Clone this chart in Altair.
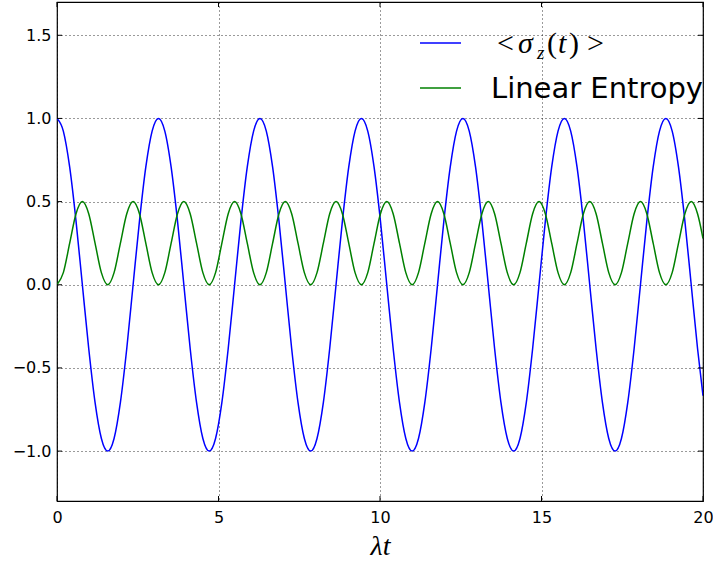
import altair as alt
import pandas as pd

# time samples (lambda t)
t = [0.0, 0.196, 0.393, 0.589, 0.785, 0.982, 1.178, 1.374, 1.571, 1.767, 1.963, 2.160, 2.356, 2.553, 2.749, 2.945,
     3.142, 3.338, 3.534, 3.731, 3.927, 4.123, 4.320, 4.516, 4.712, 4.909, 5.105, 5.301, 5.498, 5.694, 5.890, 6.087,
     6.283, 6.480, 6.676, 6.872, 7.069, 7.265, 7.461, 7.658, 7.854, 8.050, 8.247, 8.443, 8.639, 8.836, 9.032, 9.228,
     9.425, 9.621, 9.817, 10.014, 10.210, 10.407, 10.603, 10.799, 10.996, 11.192, 11.388, 11.585, 11.781, 11.977, 12.174, 12.370,
     12.566, 12.763, 12.959, 13.155, 13.352, 13.548, 13.744, 13.941, 14.137, 14.334, 14.530, 14.726, 14.923, 15.119, 15.315, 15.512,
     15.708, 15.904, 16.101, 16.297, 16.493, 16.690, 16.886, 17.082, 17.279, 17.475, 17.671, 17.868, 18.064, 18.261, 18.457, 18.653,
     18.850, 19.046, 19.242, 19.439, 19.635, 19.831, 20.0]

sigma_z = [1.0, 0.924, 0.707, 0.383, 0.0, -0.383, -0.707, -0.924, -1.0, -0.924, -0.707, -0.383, 0.0, 0.383, 0.707, 0.924,
           1.0, 0.924, 0.707, 0.383, 0.0, -0.383, -0.707, -0.924, -1.0, -0.924, -0.707, -0.383, 0.0, 0.383, 0.707, 0.924,
           1.0, 0.924, 0.707, 0.383, 0.0, -0.383, -0.707, -0.924, -1.0, -0.924, -0.707, -0.383, 0.0, 0.383, 0.707, 0.924,
           1.0, 0.924, 0.707, 0.383, 0.0, -0.383, -0.707, -0.924, -1.0, -0.924, -0.707, -0.383, 0.0, 0.383, 0.707, 0.924,
           1.0, 0.924, 0.707, 0.383, 0.0, -0.383, -0.707, -0.924, -1.0, -0.924, -0.707, -0.383, 0.0, 0.383, 0.707, 0.924,
           1.0, 0.924, 0.707, 0.383, 0.0, -0.383, -0.707, -0.924, -1.0, -0.924, -0.707, -0.383, 0.0, 0.383, 0.707, 0.924,
           1.0, 0.924, 0.707, 0.383, 0.0, -0.383, -0.667]

entropy = [0.0, 0.073, 0.25, 0.427, 0.5, 0.427, 0.25, 0.073, 0.0, 0.073, 0.25, 0.427, 0.5, 0.427, 0.25, 0.073,
           0.0, 0.073, 0.25, 0.427, 0.5, 0.427, 0.25, 0.073, 0.0, 0.073, 0.25, 0.427, 0.5, 0.427, 0.25, 0.073,
           0.0, 0.073, 0.25, 0.427, 0.5, 0.427, 0.25, 0.073, 0.0, 0.073, 0.25, 0.427, 0.5, 0.427, 0.25, 0.073,
           0.0, 0.073, 0.25, 0.427, 0.5, 0.427, 0.25, 0.073, 0.0, 0.073, 0.25, 0.427, 0.5, 0.427, 0.25, 0.073,
           0.0, 0.073, 0.25, 0.427, 0.5, 0.427, 0.25, 0.073, 0.0, 0.073, 0.25, 0.427, 0.5, 0.427, 0.25, 0.073,
           0.0, 0.073, 0.25, 0.427, 0.5, 0.427, 0.25, 0.073, 0.0, 0.073, 0.25, 0.427, 0.5, 0.427, 0.25, 0.073,
           0.0, 0.073, 0.25, 0.427, 0.5, 0.427, 0.278]

series_names = ["sigma", "entropy"]
series_colors = ["#0000ff", "#008000"]
x_ticks = [0, 5, 10, 15, 20]
y_ticks = [-1.0, -0.5, 0.0, 0.5, 1.0, 1.5]
x_domain = [0, 20]
y_domain = [-1.3, 1.7]

W, H = 646, 499

rows = []
for i in range(len(t)):
    rows.append({"x": t[i], "y": sigma_z[i], "s": "sigma", "o": i})
    rows.append({"x": t[i], "y": entropy[i], "s": "entropy", "o": i})
df = pd.DataFrame(rows)

xs = alt.Scale(domain=x_domain, nice=False, zero=False)
ys = alt.Scale(domain=y_domain, nice=False, zero=False)
xa = alt.Axis(values=x_ticks, format="d", title="λt")
ya = alt.Axis(values=y_ticks, format=".1f", title=None)

lines = alt.Chart(df).mark_line(strokeWidth=1.5, interpolate="monotone", clip=True).encode(
    x=alt.X("x:Q", scale=xs, axis=xa),
    y=alt.Y("y:Q", scale=ys, axis=ya),
    color=alt.Color("s:N", scale=alt.Scale(domain=series_names, range=series_colors), legend=None),
    order="o:Q",
    detail="s:N",
)

xt = pd.DataFrame({"x": x_ticks})
yt = pd.DataFrame({"y": y_ticks})
tick_len = 5
xb = alt.Chart(xt).mark_rule(color="black", strokeWidth=1).encode(
    x=alt.X("x:Q", scale=xs, axis=xa), y=alt.value(H), y2=alt.value(H - tick_len))
xtop = alt.Chart(xt).mark_rule(color="black", strokeWidth=1).encode(
    x=alt.X("x:Q", scale=xs, axis=xa), y=alt.value(0), y2=alt.value(tick_len))
yl = alt.Chart(yt).mark_rule(color="black", strokeWidth=1).encode(
    y=alt.Y("y:Q", scale=ys, axis=ya), x=alt.value(0), x2=alt.value(tick_len))
yr = alt.Chart(yt).mark_rule(color="black", strokeWidth=1).encode(
    y=alt.Y("y:Q", scale=ys, axis=ya), x=alt.value(W), x2=alt.value(W - tick_len))

one = pd.DataFrame({"a": [0]})
leg_blue = alt.Chart(one).mark_rule(color=series_colors[0], strokeWidth=1.5).encode(
    x=alt.value(363), x2=alt.value(404), y=alt.value(41))
leg_green = alt.Chart(one).mark_rule(color=series_colors[1], strokeWidth=1.5).encode(
    x=alt.value(363), x2=alt.value(404), y=alt.value(86))

serif = "Liberation Serif"
def txt(s, x, y, size, style="normal", font=serif):
    return alt.Chart(one).mark_text(text=s, align="left", baseline="alphabetic", font=font,
                                    fontSize=size, fontStyle=style, color="black").encode(
        x=alt.value(x), y=alt.value(y))

legend_texts = [
    txt("<", 440, 51, 30),
    txt("σ", 461, 51, 30, "italic"),
    txt("z", 480, 57, 19, "italic"),
    txt("(", 490, 51, 30),
    txt("t", 501, 51, 30, "italic"),
    txt(")", 512, 51, 30),
    txt(">", 530, 51, 30),
    txt("Linear Entropy", 434, 96, 29, font="DejaVu Sans"),
]

chart = alt.layer(lines, xb, xtop, yl, yr, leg_blue, leg_green, *legend_texts).properties(
    width=W, height=H,
    padding={"left": 57, "top": 2, "right": 10, "bottom": 61},
    autosize=alt.AutoSizeParams(type="none"),
    background="white",
).configure_view(stroke="black", strokeWidth=1.2).configure_axis(
    domain=False, ticks=False, grid=True, gridColor="#000000", gridDash=[1, 3], gridWidth=0.8,
    gridOpacity=1, labelFont="DejaVu Sans", labelFontSize=16, labelColor="black", labelFlush=False,
).configure_axisX(
    labelPadding=8, titleFont=serif, titleFontStyle="italic", titleFontWeight="normal",
    titleFontSize=28, titleColor="black", titleBaseline="alphabetic", titleY=53,
).configure_axisY(labelPadding=6)

chart.save("out.html", embed_options={"renderer": "svg", "actions": False})
